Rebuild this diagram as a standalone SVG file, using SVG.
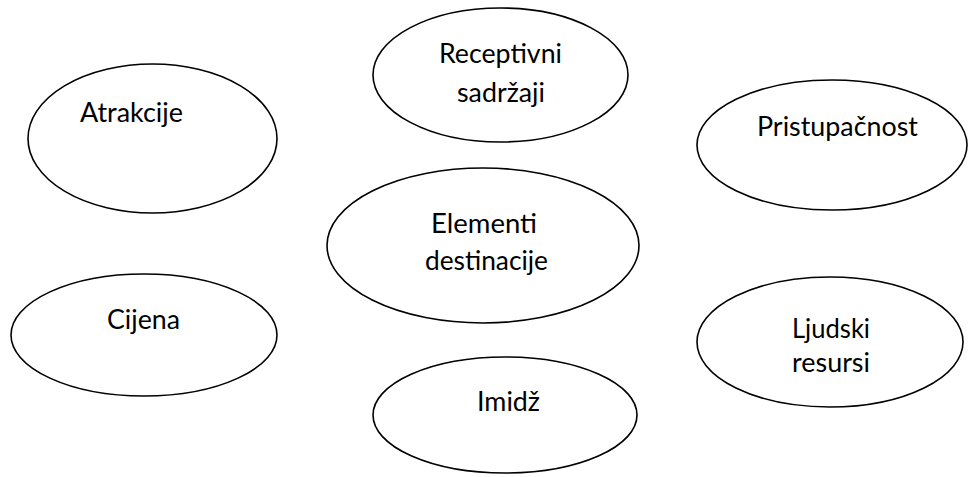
<svg xmlns="http://www.w3.org/2000/svg" width="970" height="477" viewBox="0 0 970 477">
<style>
.n ellipse{fill:#fff;stroke:#000;stroke-width:1.6}
.n text{font-family:Lato,"Open Sans","Liberation Sans",sans-serif;font-size:27px;fill:#000}
</style>
<rect width="970" height="477" fill="#fff"/>
<g id="connectors"></g>
<g id="atrakcije" class="n">
<ellipse cx="152.5" cy="138.5" rx="124.5" ry="74.5"/>
<text x="80" y="122" textLength="103" lengthAdjust="spacingAndGlyphs">Atrakcije</text>
</g>
<g id="receptivni" class="n">
<ellipse cx="500.5" cy="75" rx="127.5" ry="67"/>
<text x="439" y="63" textLength="123" lengthAdjust="spacingAndGlyphs">Receptivni</text>
<text x="457" y="102" textLength="88" lengthAdjust="spacingAndGlyphs">sadržaji</text>
</g>
<g id="pristupacnost" class="n">
<ellipse cx="832" cy="145" rx="135" ry="65"/>
<text x="757" y="136" textLength="161" lengthAdjust="spacingAndGlyphs">Pristupačnost</text>
</g>
<g id="elementi" class="n">
<ellipse cx="483" cy="245.5" rx="156" ry="77.5"/>
<text x="431" y="233" textLength="106" lengthAdjust="spacingAndGlyphs">Elementi</text>
<text x="425" y="270" textLength="123" lengthAdjust="spacingAndGlyphs">destinacije</text>
</g>
<g id="cijena" class="n">
<ellipse cx="144" cy="335" rx="133" ry="61"/>
<text x="107" y="329" textLength="73" lengthAdjust="spacingAndGlyphs">Cijena</text>
</g>
<g id="ljudski" class="n">
<ellipse cx="830" cy="342" rx="133" ry="65"/>
<text x="792" y="338" textLength="78" lengthAdjust="spacingAndGlyphs">Ljudski</text>
<text x="792" y="372" textLength="78" lengthAdjust="spacingAndGlyphs">resursi</text>
</g>
<g id="imidz" class="n">
<ellipse cx="505" cy="415" rx="132" ry="58"/>
<text x="477" y="411" textLength="63" lengthAdjust="spacingAndGlyphs">Imidž</text>
</g>
</svg>
